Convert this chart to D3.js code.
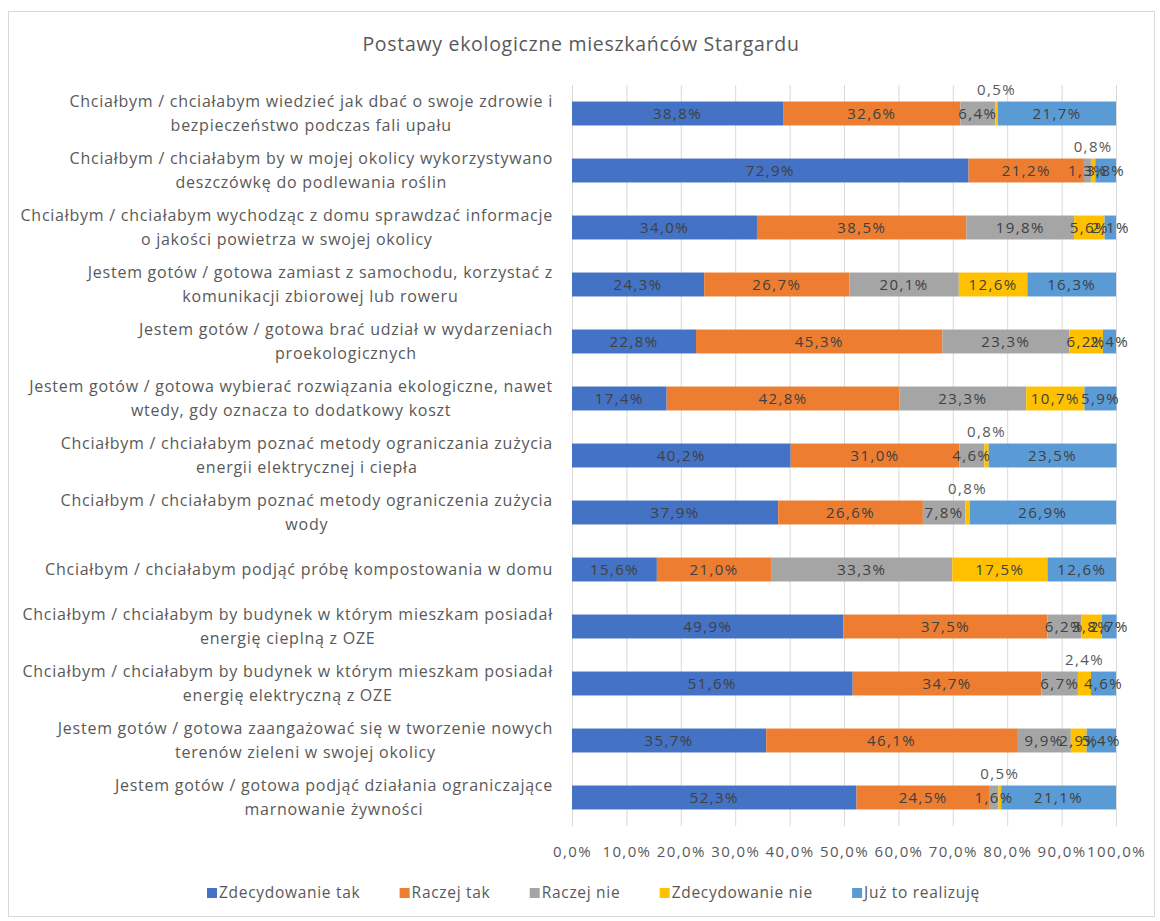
<!DOCTYPE html>
<html>
<head>
<meta charset="utf-8">
<script src="https://cdn.jsdelivr.net/npm/d3@7"></script>
<style>
  body { margin: 0; background: #fff; }
  svg { display: block; }
  text { font-family: "Open Sans", Lato, sans-serif; }
</style>
</head>
<body>
<svg id="chart" width="1160" height="921"></svg>
<script>
const title = "Postawy ekologiczne mieszkańców Stargardu";

const categories = [
  ["Chciałbym / chciałabym wiedzieć jak dbać o swoje zdrowie i", "bezpieczeństwo podczas fali upału"],
  ["Chciałbym / chciałabym by w mojej okolicy wykorzystywano", "deszczówkę do podlewania roślin"],
  ["Chciałbym / chciałabym wychodząc z domu sprawdzać informacje", "o jakości powietrza w swojej okolicy"],
  ["Jestem gotów / gotowa zamiast z samochodu, korzystać z", "komunikacji zbiorowej lub roweru"],
  ["Jestem gotów / gotowa brać udział w wydarzeniach", "proekologicznych"],
  ["Jestem gotów / gotowa wybierać rozwiązania ekologiczne, nawet", "wtedy, gdy oznacza to dodatkowy koszt"],
  ["Chciałbym / chciałabym poznać metody ograniczania zużycia", "energii elektrycznej i ciepła"],
  ["Chciałbym / chciałabym poznać metody ograniczenia zużycia", "wody"],
  ["Chciałbym / chciałabym podjąć próbę kompostowania w domu"],
  ["Chciałbym / chciałabym by budynek w którym mieszkam posiadał", "energię cieplną z OZE"],
  ["Chciałbym / chciałabym by budynek w którym mieszkam posiadał", "energię elektryczną z OZE"],
  ["Jestem gotów / gotowa zaangażować się w tworzenie nowych", "terenów zieleni w swojej okolicy"],
  ["Jestem gotów / gotowa podjąć działania ograniczające", "marnowanie żywności"]
];

const seriesNames = ["Zdecydowanie tak", "Raczej tak", "Raczej nie", "Zdecydowanie nie", "Już to realizuję"];

const zdecydowanieTak = [38.8, 72.9, 34.0, 24.3, 22.8, 17.4, 40.2, 37.9, 15.6, 49.9, 51.6, 35.7, 52.3];
const raczejTak       = [32.6, 21.2, 38.5, 26.7, 45.3, 42.8, 31.0, 26.6, 21.0, 37.5, 34.7, 46.1, 24.5];
const raczejNie       = [ 6.4,  1.3, 19.8, 20.1, 23.3, 23.3,  4.6,  7.8, 33.3,  6.2,  6.7,  9.9,  1.6];
const zdecydowanieNie = [ 0.5,  0.8,  5.6, 12.6,  6.2, 10.7,  0.8,  0.8, 17.5,  3.8,  2.4,  2.9,  0.5];
const juzRealizuje    = [21.7,  3.8,  2.1, 16.3,  2.4,  5.9, 23.5, 26.9, 12.6,  2.7,  4.6,  5.4, 21.1];

// rows whose "Zdecydowanie nie" label is drawn above the bar
const liftedLabelRows = [0, 1, 6, 7, 10, 12];

const tickValues = [0, 10, 20, 30, 40, 50, 60, 70, 80, 90, 100];

const colors = ["#4472C4", "#ED7D31", "#A5A5A5", "#FFC000", "#5B9BD5"];

const svg = d3.select("#chart");
const W = 1160, H = 921;

// outer border
svg.append("rect").attr("x", 8.5).attr("y", 11.5).attr("width", W - 14).attr("height", H - 16)
  .attr("fill", "#fff").attr("stroke", "#d9d9d9");

svg.append("text").attr("x", 581).attr("y", 51).attr("text-anchor", "middle")
  .attr("font-size", 19.5).attr("letter-spacing", 0.7).attr("fill", "#595959").text(title);

const plot = { left: 572, right: 1116, top: 85, bottom: 826 };

const x = d3.scaleLinear().domain([0, 100]).range([plot.left, plot.right]);
const y = d3.scaleBand().domain(d3.range(categories.length)).range([plot.top, plot.bottom]).paddingInner(0.58).paddingOuter(0.29);

// gridlines
svg.append("g").selectAll("line").data(tickValues).join("line")
  .attr("x1", d => x(d) + 0.5).attr("x2", d => x(d) + 0.5)
  .attr("y1", plot.top).attr("y2", plot.bottom)
  .attr("stroke", "#d9d9d9").attr("stroke-width", 1);

// x axis tick labels
const xAxis = d3.axisBottom(x).tickValues(tickValues).tickSize(0)
  .tickFormat(d => d.toFixed(1).replace(".", ",") + "%");
const gx = svg.append("g").attr("transform", `translate(0,${plot.bottom + 17})`).call(xAxis);
gx.select(".domain").remove();
gx.selectAll("text").attr("font-size", 15).attr("letter-spacing", 1.4).attr("fill", "#595959")
  .attr("font-family", "'Open Sans', sans-serif");

// stack
const seriesArrays = [zdecydowanieTak, raczejTak, raczejNie, zdecydowanieNie, juzRealizuje];
const rows = categories.map((c, i) => {
  const o = { i };
  seriesNames.forEach((s, k) => o[s] = seriesArrays[k][i]);
  return o;
});
const stacked = d3.stack().keys(seriesNames)(rows);

const gBars = svg.append("g");
stacked.forEach((layer, k) => {
  gBars.append("g").selectAll("rect").data(layer).join("rect")
    .attr("x", d => x(d[0]))
    .attr("y", d => y(d.data.i))
    .attr("width", d => x(d[1]) - x(d[0]))
    .attr("height", y.bandwidth())
    .attr("fill", colors[k]);
});

// data labels
const fmt = v => v.toFixed(1).replace(".", ",") + "%";
const gLab = svg.append("g");
stacked.forEach((layer, k) => {
  layer.forEach(d => {
    const i = d.data.i;
    const lifted = k === 3 && liftedLabelRows.includes(i);
    const cx = (x(d[0]) + x(d[1])) / 2;
    const cy = lifted ? y(i) - 12 : y(i) + y.bandwidth() / 2;
    gLab.append("text").attr("x", cx).attr("y", cy)
      .attr("dy", "0.35em").attr("text-anchor", "middle")
      .attr("font-size", 15).attr("letter-spacing", 1.4).attr("fill", lifted ? "#595959" : "#404040")
      .text(fmt(d.data[seriesNames[k]]));
  });
});

// category labels (wrapped, block right-aligned to plot, lines centered in block)
const gCat = svg.append("g");
categories.forEach((lines, i) => {
  const g = gCat.append("g");
  const texts = lines.map(l => g.append("text").attr("font-size", 16).attr("letter-spacing", 0.75)
    .attr("fill", "#595959").text(l));
  const widths = texts.map(t => t.node().getComputedTextLength());
  const bw = d3.max(widths);
  const rightEdge = 553;
  const cxBlock = rightEdge - bw / 2;
  const lh = 24;
  const cy = y(i) + y.bandwidth() / 2;
  const y0 = cy - (lines.length - 1) * lh / 2;
  texts.forEach((t, j) => {
    t.attr("x", cxBlock).attr("y", y0 + j * lh).attr("dy", "0.35em").attr("text-anchor", "middle");
  });
});

// legend
const legend = svg.append("g");
const ly = 893;
const items = seriesNames.map((s, k) => {
  const g = legend.append("g");
  g.append("rect").attr("x", 0).attr("y", ly - 5).attr("width", 10).attr("height", 10).attr("fill", colors[k]);
  const t = g.append("text").attr("x", 12).attr("y", ly).attr("dy", "0.35em")
    .attr("font-size", 15.5).attr("letter-spacing", 0.7).attr("fill", "#595959").text(s);
  return { g, w: 12 + t.node().getComputedTextLength() };
});
const legendLeft = 207, legendRight = 980;
const gap = (legendRight - legendLeft - d3.sum(items, d => d.w)) / (items.length - 1);
let lx = legendLeft;
items.forEach(it => { it.g.attr("transform", `translate(${lx},0)`); lx += it.w + gap; });
</script>
</body>
</html>
